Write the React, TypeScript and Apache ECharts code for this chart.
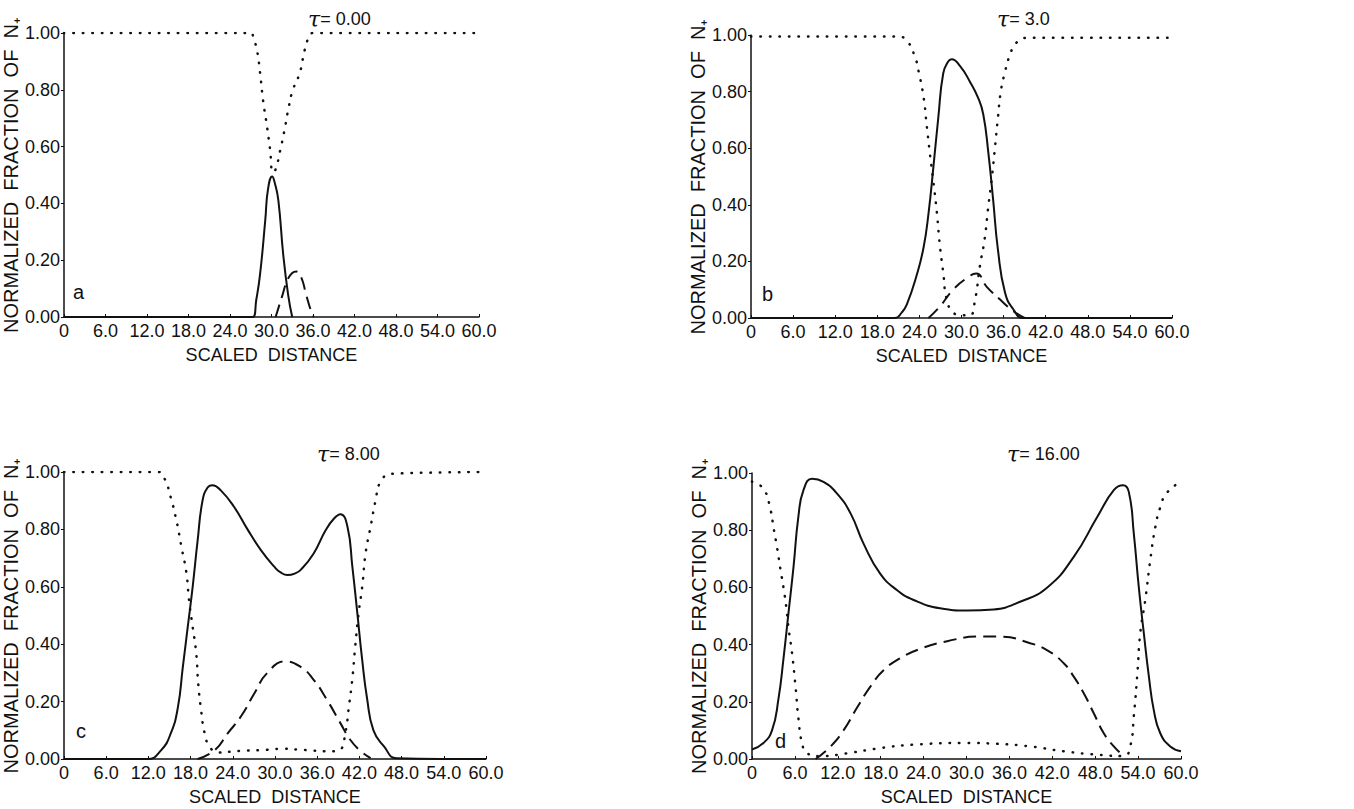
import React, { useEffect, useRef } from "react";
import * as echarts from "echarts";

const xTicks = [0, 6, 12, 18, 24, 30, 36, 42, 48, 54, 60];
const yTicks = [0, 0.2, 0.4, 0.6, 0.8, 1.0];
const taus = ["0.00", "3.0", "8.00", "16.00"];
const panelLetters = ["a", "b", "c", "d"];

const solidA = [[0,0],[27.3,0],[27.8,0.06],[28.35,0.15],[29.1,0.34],[29.5,0.45],[30.1,0.495],[30.5,0.47],[31.0,0.41],[31.7,0.22],[32.4,0.08],[33.0,0]];
const dashA = [[30.6,0],[31.5,0.07],[32.3,0.13],[33.0,0.155],[33.6,0.16],[34.3,0.14],[35.0,0.08],[35.6,0.03],[36.1,0]];
const dotA = [[0,1],[27,1],[27.4,0.98],[27.9,0.94],[28.35,0.86],[28.8,0.76],[29.3,0.68],[29.8,0.59],[30.2,0.51],[30.6,0.52],[31.2,0.58],[31.9,0.66],[32.5,0.74],[33.1,0.8],[34.1,0.86],[34.8,0.94],[35.5,0.99],[36.0,1.0],[60,1]];

const solidB = [[0,0],[20.5,0],[21.5,0.02],[22.2,0.047],[23.6,0.15],[24.6,0.25],[25.3,0.37],[26.0,0.535],[26.7,0.71],[27.4,0.865],[28.1,0.906],[28.6,0.914],[29.8,0.89],[31.2,0.835],[32.4,0.776],[33.1,0.72],[33.8,0.59],[34.5,0.42],[35.2,0.24],[36.2,0.09],[37.4,0.03],[38.8,0],[60,0]];
const dashB = [[25.3,0],[26.9,0.04],[28.8,0.1],[30.7,0.14],[32.1,0.157],[33.6,0.11],[35.5,0.065],[37.4,0.024],[39.0,0]];
const dotB = [[0,0.995],[20.8,0.995],[22.2,0.98],[23.4,0.92],[23.9,0.87],[24.6,0.78],[25.0,0.69],[25.5,0.58],[26.0,0.48],[26.5,0.37],[26.9,0.26],[27.4,0.16],[27.9,0.065],[28.8,0.02],[30.0,0.01],[31.2,0.01],[31.9,0.06],[32.6,0.18],[33.3,0.28],[33.8,0.39],[34.3,0.49],[34.8,0.61],[35.2,0.71],[35.6,0.8],[36.2,0.87],[36.9,0.93],[37.6,0.965],[38.5,0.985],[39.5,0.99],[60,0.99]];

const solidC = [[0,0],[11.9,0],[13.8,0.03],[15.2,0.09],[16.2,0.18],[16.9,0.32],[17.6,0.46],[18.3,0.6],[19.0,0.76],[19.7,0.9],[20.4,0.945],[21.1,0.954],[22.3,0.936],[24.2,0.878],[26.1,0.8],[28.0,0.728],[29.9,0.67],[30.8,0.65],[31.8,0.641],[32.8,0.646],[33.7,0.66],[35.5,0.716],[37.2,0.797],[38.4,0.838],[39.3,0.853],[40.3,0.81],[41.0,0.67],[41.7,0.51],[42.4,0.345],[43.1,0.21],[44.0,0.1],[45.5,0.044],[47.3,0.003],[60,0]];
const dashC = [[19.0,0],[21.4,0.03],[23.3,0.09],[25.2,0.15],[27.1,0.23],[28.9,0.3],[31.5,0.34],[33.7,0.32],[35.5,0.276],[37.4,0.206],[39.3,0.125],[40.7,0.067],[42.2,0.027],[43.6,0.003]];
const dotC = [[0,1],[13.4,1],[14.3,0.977],[15.2,0.91],[16.0,0.83],[16.7,0.74],[17.4,0.65],[17.8,0.55],[18.3,0.46],[18.8,0.37],[19.1,0.26],[19.5,0.17],[20.0,0.09],[20.7,0.044],[21.9,0.023],[25,0.028],[28.9,0.032],[31.3,0.036],[33.7,0.032],[38.4,0.027],[39.3,0.032],[40.0,0.09],[40.5,0.18],[41.0,0.28],[41.4,0.39],[41.9,0.51],[42.4,0.6],[42.9,0.72],[43.6,0.81],[44.3,0.9],[45.0,0.965],[46.6,0.994],[60,1.0]];

const solidD = [[0,0.033],[1.6,0.056],[2.8,0.1],[3.7,0.21],[4.4,0.35],[5.1,0.51],[5.8,0.67],[6.5,0.85],[7.2,0.94],[8.4,0.98],[10.0,0.969],[11.9,0.928],[13.8,0.858],[15.6,0.753],[17.9,0.649],[20.3,0.59],[22.6,0.556],[26.3,0.527],[30.1,0.519],[33.8,0.523],[37.5,0.55],[41.3,0.6],[45.0,0.707],[48.3,0.847],[50.6,0.94],[51.9,0.957],[52.7,0.934],[53.4,0.788],[54.1,0.6],[54.8,0.44],[55.5,0.29],[56.2,0.17],[57.1,0.09],[58.5,0.044],[60,0.027]];
const dashD = [[8.9,0],[11.0,0.044],[12.8,0.1],[14.7,0.18],[16.6,0.255],[18.4,0.31],[20.7,0.352],[23.5,0.385],[27.3,0.412],[31.9,0.428],[34.7,0.428],[38.9,0.405],[41.3,0.38],[43.6,0.335],[45.0,0.288],[46.4,0.23],[47.8,0.16],[49.2,0.09],[50.6,0.044],[52.0,0.01]];
const dotD = [[0,0.97],[1.6,0.945],[2.6,0.87],[3.0,0.81],[3.5,0.74],[4.0,0.66],[4.4,0.6],[4.8,0.53],[5.1,0.46],[5.6,0.37],[6.1,0.25],[6.5,0.14],[7.0,0.056],[7.7,0.02],[9.6,0.01],[13.3,0.02],[17.9,0.038],[22.6,0.05],[29.6,0.056],[34.3,0.053],[38.9,0.044],[43.6,0.027],[48.3,0.015],[52.0,0.01],[52.9,0.044],[53.4,0.15],[53.9,0.3],[54.3,0.44],[55.0,0.556],[55.7,0.695],[56.4,0.81],[57.1,0.88],[58.0,0.93],[60,0.97]];

const solids = [solidA, solidB, solidC, solidD];
const dashes = [dashA, dashB, dashC, dashD];
const dots = [dotA, dotB, dotC, dotD];

const FONT = "'Liberation Sans', Arial, sans-serif";

const grids = [
  { left: 61, top: 33, width: 418, height: 284 },
  { left: 751, top: 35, width: 421, height: 283 },
  { left: 62, top: 472, width: 424, height: 287 },
  { left: 752, top: 473, width: 429, height: 286 },
];
const tauPos = [[308, 8], [997, 8], [317, 443], [1007, 443]];
const letterPos = [[73, 282], [762, 284], [76, 721], [775, 731]];

export default function App() {
  const ref = useRef<HTMLDivElement>(null);
  useEffect(() => {
    if (!ref.current) return;
    const chart = echarts.init(ref.current, undefined, { renderer: "svg" });
    const xAxis = grids.map((_, i) => ({
      type: "value",
      gridIndex: i,
      min: 0,
      max: 60,
      interval: 6,
      name: "SCALED  DISTANCE",
      nameLocation: "middle",
      nameGap: 29,
      nameTextStyle: { fontFamily: FONT, fontSize: 18, color: "#111" },
      axisLine: { show: true, lineStyle: { color: "#111", width: 1.5 } },
      axisTick: { show: true, inside: true, length: 3, lineStyle: { color: "#111" } },
      splitLine: { show: false },
      axisLabel: {
        fontFamily: FONT,
        fontSize: 18,
        color: "#111",
        margin: 5,
        formatter: (v: number) => (v === 0 ? "0" : v.toFixed(1)),
      },
    }));
    const yAxis = grids.map((_, i) => ({
      type: "value",
      gridIndex: i,
      min: 0,
      max: 1,
      interval: 0.2,
      name: "NORMALIZED  FRACTION  OF  N₊",
      nameLocation: "middle",
      nameGap: 36,
      nameTextStyle: { fontFamily: FONT, fontSize: 20, color: "#111" },
      axisLine: { show: true, lineStyle: { color: "#111", width: 1.5 } },
      axisTick: { show: true, length: 3, lineStyle: { color: "#111" } },
      splitLine: { show: false },
      axisLabel: {
        fontFamily: FONT,
        fontSize: 18,
        color: "#111",
        margin: 4,
        formatter: (v: number) => v.toFixed(2),
      },
    }));
    const series: any[] = [];
    for (let i = 0; i < 4; i++) {
      series.push({
        type: "line",
        xAxisIndex: i,
        yAxisIndex: i,
        data: solids[i],
        showSymbol: false,
        smooth: 0.5,
        lineStyle: { color: "#111", width: 2 },
      });
      series.push({
        type: "line",
        xAxisIndex: i,
        yAxisIndex: i,
        data: dashes[i],
        showSymbol: false,
        smooth: 0.5,
        lineStyle: { color: "#111", width: 2, type: [13, 7] },
      });
      series.push({
        type: "line",
        xAxisIndex: i,
        yAxisIndex: i,
        data: dots[i],
        showSymbol: false,
        smooth: 0.5,
        lineStyle: { color: "#111", width: 2.5, type: [0.5, 9], cap: "round" },
      });
    }
    const graphic: any[] = [];
    for (let i = 0; i < 4; i++) {
      graphic.push({
        type: "text",
        left: tauPos[i][0],
        top: tauPos[i][1],
        style: {
          rich: {
            t: { fontFamily: "'DejaVu Serif', serif", fontStyle: "italic", fontSize: 22, fill: "#111" },
            v: { fontFamily: FONT, fontSize: 18, fill: "#111" },
          },
          text: "{t|τ}{v|= " + taus[i] + "}",
        },
      });
      graphic.push({
        type: "text",
        left: letterPos[i][0],
        top: letterPos[i][1],
        style: { text: panelLetters[i], fontFamily: FONT, fontSize: 20, fill: "#111" },
      });
    }
    chart.setOption({
      animation: false,
      backgroundColor: "#fff",
      grid: grids.map((g) => ({ ...g, containLabel: false })),
      xAxis,
      yAxis,
      series,
      graphic,
    });
    return () => chart.dispose();
  }, []);
  return (
    <div
      ref={ref}
      style={{ position: "absolute", left: 0, top: 0, width: 1354, height: 809 }}
    />
  );
}
